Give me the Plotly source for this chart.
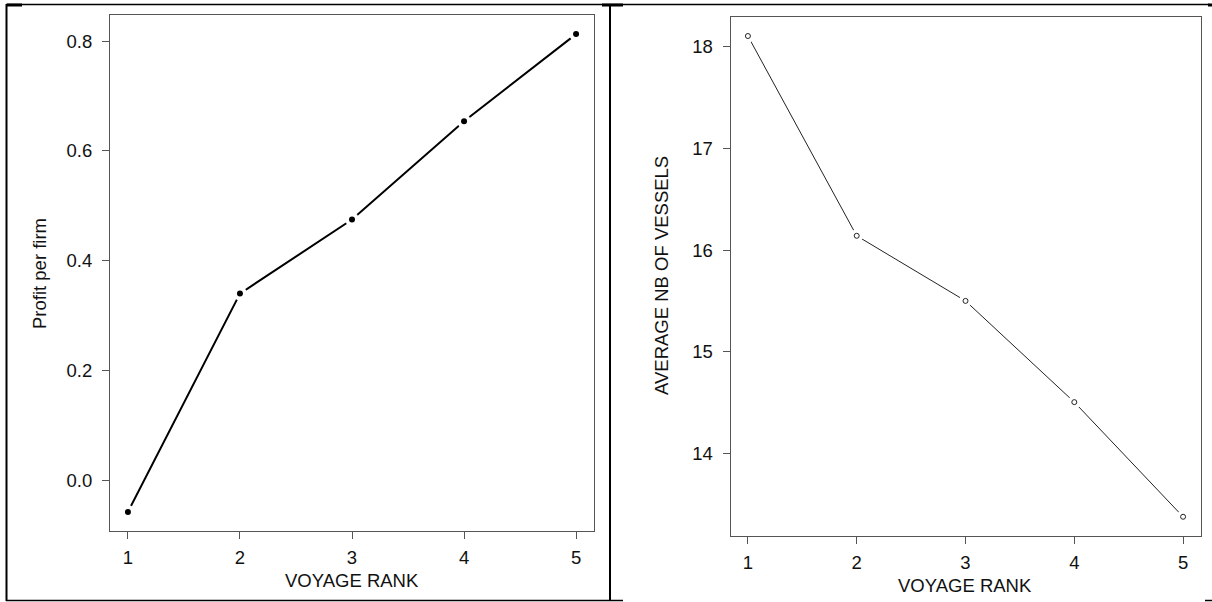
import plotly.graph_objects as go

# ---- data ----
voyage_rank = [1, 2, 3, 4, 5]
profit_per_firm = [-0.058, 0.340, 0.475, 0.654, 0.813]
avg_nb_vessels = [18.104, 16.14, 15.50, 14.505, 13.378]
left_yticks = [0.0, 0.2, 0.4, 0.6, 0.8]
left_yticklabels = ["0.0", "0.2", "0.4", "0.6", "0.8"]
right_yticks = [14, 15, 16, 17, 18]
right_yticklabels = ["14", "15", "16", "17", "18"]

W, H = 1212, 602
FONT = "Liberation Sans, Arial, sans-serif"
AX = "#555555"
FS = 18.5


def rng(v):
    lo, hi = min(v), max(v)
    d = (hi - lo) * 0.04
    return [lo - d, hi + d]


def px_x(a, b):
    return [a / W, b / W]


def px_y(top, bottom):
    return [1 - bottom / H, 1 - top / H]


fig = go.Figure()

# Left panel
fig.add_trace(go.Scatter(x=voyage_rank, y=profit_per_firm, mode="lines",
                         line=dict(color="black", width=2), xaxis="x", yaxis="y",
                         showlegend=False, hoverinfo="skip"))
fig.add_trace(go.Scatter(x=voyage_rank, y=profit_per_firm, mode="markers",
                         marker=dict(color="white", size=14, line=dict(width=0)),
                         xaxis="x", yaxis="y", showlegend=False, hoverinfo="skip"))
fig.add_trace(go.Scatter(x=voyage_rank, y=profit_per_firm, mode="markers",
                         marker=dict(color="black", size=6, line=dict(width=0)),
                         xaxis="x", yaxis="y", showlegend=False))

# Right panel
fig.add_trace(go.Scatter(x=voyage_rank, y=avg_nb_vessels, mode="lines",
                         line=dict(color="#222222", width=1), xaxis="x2", yaxis="y2",
                         showlegend=False, hoverinfo="skip"))
fig.add_trace(go.Scatter(x=voyage_rank, y=avg_nb_vessels, mode="markers",
                         marker=dict(color="white", size=13, line=dict(width=0)),
                         xaxis="x2", yaxis="y2", showlegend=False, hoverinfo="skip"))
fig.add_trace(go.Scatter(x=voyage_rank, y=avg_nb_vessels, mode="markers",
                         marker=dict(color="white", size=5, line=dict(color="#222222", width=1)),
                         xaxis="x2", yaxis="y2", showlegend=False))

axis_common = dict(showline=True, mirror=True, linecolor=AX, linewidth=1,
                   showgrid=False, zeroline=False, ticks="outside", ticklen=7,
                   tickcolor=AX, tickwidth=1,
                   tickfont=dict(family=FONT, size=FS, color="#111111"))

fig.update_layout(
    width=W, height=H,
    margin=dict(l=0, r=0, t=0, b=0),
    paper_bgcolor="white", plot_bgcolor="white",
    xaxis=dict(domain=px_x(110, 594), range=rng(voyage_rank), anchor="y",
               tickvals=voyage_rank, ticktext=[str(v) for v in voyage_rank],
               ticklabelstandoff=3, **axis_common),
    yaxis=dict(domain=px_y(15, 531), range=rng(profit_per_firm), anchor="x",
               tickvals=left_yticks, ticktext=left_yticklabels,
               ticklabelstandoff=6, **axis_common),
    xaxis2=dict(domain=px_x(730.5, 1200.5), range=rng(voyage_rank), anchor="y2",
                tickvals=voyage_rank, ticktext=[str(v) for v in voyage_rank],
                ticklabelstandoff=3, **axis_common),
    yaxis2=dict(domain=px_y(16.8, 536), range=rng(avg_nb_vessels), anchor="x2",
                tickvals=right_yticks, ticktext=right_yticklabels,
                ticklabelstandoff=6, **axis_common),
)

title_font = dict(family=FONT, size=FS, color="#111111")
annotations = [
    dict(text="VOYAGE RANK", x=352 / W, y=1 - 580 / H, xref="paper", yref="paper",
         showarrow=False, font=title_font, xanchor="center", yanchor="middle"),
    dict(text="Profit per firm", x=40 / W, y=1 - 273 / H, xref="paper", yref="paper",
         showarrow=False, font=title_font, textangle=-90, xanchor="center", yanchor="middle"),
    dict(text="VOYAGE RANK", x=965 / W, y=1 - 585 / H, xref="paper", yref="paper",
         showarrow=False, font=title_font, xanchor="center", yanchor="middle"),
    dict(text="AVERAGE NB OF VESSELS", x=661 / W, y=1 - 276 / H, xref="paper", yref="paper",
         showarrow=False, font=title_font, textangle=-90, xanchor="center", yanchor="middle"),
]
fig.update_layout(annotations=annotations)


def line(x0, y0, x1, y1, w=2):
    return dict(type="line", xref="paper", yref="paper",
                x0=x0 / W, y0=1 - y0 / H, x1=x1 / W, y1=1 - y1 / H,
                line=dict(color="black", width=w))


shapes = [
    line(6, 4.5, 1210, 4.5, 1.5),   # top border
    line(6.5, 4, 6.5, 601, 2),      # left border
    line(610, 4, 610, 601, 2),      # middle border
    line(6, 600.5, 623, 600.5, 1.5),  # bottom border
    line(7, 5, 22, 5, 3),
    line(602, 5, 623, 5, 3),
    line(1208, 5, 1212, 5, 3),
    line(1205, 600.5, 1212, 600.5, 1.5),
]
fig.update_layout(shapes=shapes)

fig.write_html(
    "out.html",
    config={"displayModeBar": False},
    post_script="document.body.style.margin='0';document.body.style.overflow='hidden';",
)
